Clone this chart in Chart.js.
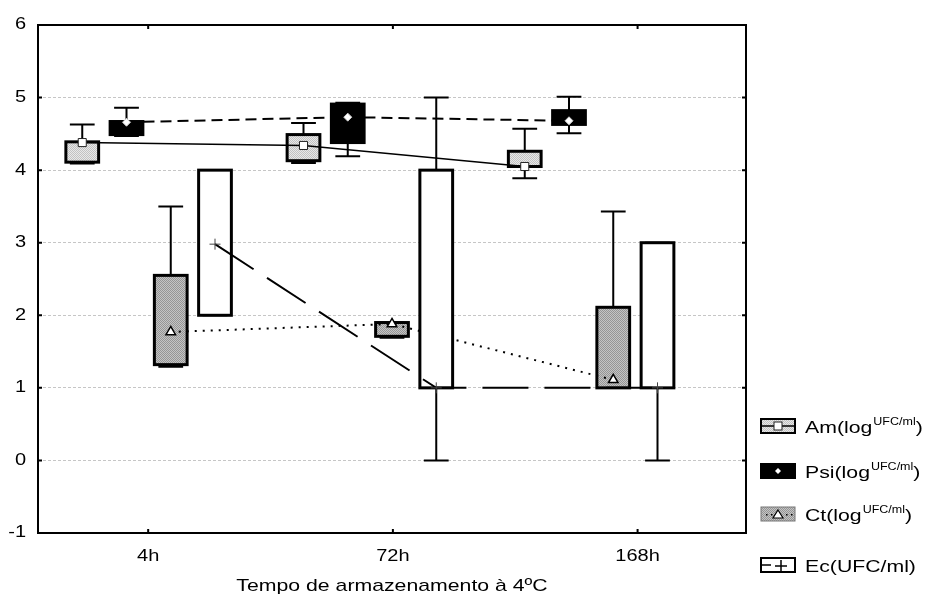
<!DOCTYPE html>
<html>
<head>
<meta charset="utf-8">
<script src="https://cdn.jsdelivr.net/npm/chart.js@4/dist/chart.umd.min.js"></script>
<style>
    html, body { margin: 0; padding: 0; background: #fff; }
    #chart { display: block; }
</style>
</head>
<body>
<canvas id="chart" width="928" height="594"></canvas>
<script>
const categories = ['4h', '72h', '168h'];
const yTicks = [-1, 0, 1, 2, 3, 4, 5, 6];
const axisTitle = 'Tempo de armazenamento à 4ºC';

// Am (log UFC/ml)
const amMin = [4.09, 4.10, 3.89];
const amQ1  = [4.11, 4.13, 4.05];
const amMed = [4.38, 4.34, 4.05];
const amQ3  = [4.39, 4.49, 4.26];
const amMax = [4.63, 4.65, 4.57];

// Psi (log UFC/ml)
const psiMin = [4.47, 4.19, 4.51];
const psiQ1  = [4.49, 4.38, 4.63];
const psiMed = [4.66, 4.73, 4.68];
const psiQ3  = [4.67, 4.91, 4.82];
const psiMax = [4.86, 4.93, 5.01];

// Ct (log UFC/ml)
const ctMin = [1.29, 1.69, 1.00];
const ctQ1  = [1.32, 1.71, 1.00];
const ctMed = [1.77, 1.88, 1.11];
const ctQ3  = [2.55, 1.90, 2.11];
const ctMax = [3.50, 1.90, 3.43];

// Ec (UFC/ml)
const ecMin = [2.0, 0.0, 0.0];
const ecQ1  = [2.0, 1.0, 1.0];
const ecMed = [2.98, 1.0, 1.0];
const ecQ3  = [4.0, 4.0, 3.0];
const ecMax = [4.0, 5.0, 3.0];

const canvas = document.getElementById('chart');
const ctx = canvas.getContext('2d');

function stipple(a, b) {
    const c = document.createElement('canvas');
    c.width = 2; c.height = 2;
    const g = c.getContext('2d');
    g.fillStyle = a; g.fillRect(0, 0, 2, 2);
    g.fillStyle = b; g.fillRect(0, 0, 1, 1); g.fillRect(1, 1, 1, 1);
    return ctx.createPattern(c, 'repeat');
}

const series = [
    { name: 'Am(log', sup: 'UFC/ml', end: ')', min: amMin, q1: amQ1, med: amMed, q3: amQ3, max: amMax,
      fill: stipple('#e8e8e8', '#c2c2c2'), dash: [], lineWidth: 1.5,
      point: { style: 'rect', radius: 5.7, bg: '#fff', border: '#222', width: 1 } },
    { name: 'Psi(log', sup: 'UFC/ml', end: ')', min: psiMin, q1: psiQ1, med: psiMed, q3: psiQ3, max: psiMax,
      fill: '#000', dash: [11, 6], lineWidth: 2,
      point: { style: 'rectRot', radius: 4, bg: '#fff', border: '#ccc', width: 1 } },
    { name: 'Ct(log', sup: 'UFC/ml', end: ')', min: ctMin, q1: ctQ1, med: ctMed, q3: ctQ3, max: ctMax,
      fill: stipple('#c4c4c4', '#959595'), dash: [2, 6], lineWidth: 2,
      point: { style: 'triangle', radius: 5.5, bg: '#fff', border: '#000', width: 1.5 } },
    { name: 'Ec(UFC/ml)', sup: '', end: '', min: ecMin, q1: ecQ1, med: ecMed, q3: ecQ3, max: ecMax,
      fill: '#fff', dash: [46, 16], lineWidth: 2,
      point: { style: 'cross', radius: 5.5, bg: '#fff', border: '#444', width: 1 } }
];

// each time point holds four boxes side by side, with an empty slot between groups
const slot = (g, si) => g * 5 + si;
const tickSlot = g => 1.49 + g * 5.53;
const TEXT_SX = 1.25;
const FONT = '"Liberation Sans", Arial, sans-serif';

function wideText(c, text, x, y, size, align) {
    c.save();
    c.font = size + 'px ' + FONT;
    const w = c.measureText(text).width * TEXT_SX;
    const x0 = align === 'center' ? x - w / 2 : align === 'right' ? x - w : x;
    c.translate(x0, y);
    c.scale(TEXT_SX, 1);
    c.textAlign = 'left';
    c.fillStyle = '#000';
    c.fillText(text, 0, 0);
    c.restore();
    return w;
}

function drawBoxes(chart, s, si) {
    const xs = chart.scales.x, ys = chart.scales.y, c = chart.ctx;
    const unit = xs.getPixelForValue(1) - xs.getPixelForValue(0);
    const hw = unit * 0.37, cap = unit * 0.28;
    c.save();
    categories.forEach((cat, g) => {
        const cx = xs.getPixelForValue(slot(g, si));
        const yMin = ys.getPixelForValue(s.min[g]), yMax = ys.getPixelForValue(s.max[g]);
        const yQ1 = ys.getPixelForValue(s.q1[g]), yQ3 = ys.getPixelForValue(s.q3[g]);
        c.strokeStyle = '#000';
        c.lineWidth = 2;
        c.beginPath();
        c.moveTo(cx, yMax); c.lineTo(cx, yMin);
        c.moveTo(cx - cap, yMax); c.lineTo(cx + cap, yMax);
        c.moveTo(cx - cap, yMin); c.lineTo(cx + cap, yMin);
        c.stroke();
        c.fillStyle = s.fill;
        c.fillRect(cx - hw, yQ3, hw * 2, yQ1 - yQ3);
        c.lineWidth = 3;
        c.strokeRect(cx - hw, yQ3, hw * 2, yQ1 - yQ3);
    });
    c.restore();
}

const boxPlugin = {
    id: 'boxes',
    beforeDatasetDraw(chart, args) {
        drawBoxes(chart, series[args.index], args.index);
    }
};

const framePlugin = {
    id: 'frame',
    afterDraw(chart) {
        const c = chart.ctx, a = chart.chartArea, xs = chart.scales.x, ys = chart.scales.y;
        c.save();
        c.strokeStyle = '#000';
        c.lineWidth = 2;
        c.strokeRect(a.left, a.top, a.right - a.left, a.bottom - a.top);
        c.beginPath();
        yTicks.forEach(v => {
            const py = ys.getPixelForValue(v);
            c.moveTo(a.left, py); c.lineTo(a.left + 4, py);
            c.moveTo(a.right, py); c.lineTo(a.right - 4, py);
        });
        categories.forEach((cat, g) => {
            const px = xs.getPixelForValue(tickSlot(g));
            c.moveTo(px, a.top); c.lineTo(px, a.top + 4);
            c.moveTo(px, a.bottom); c.lineTo(px, a.bottom - 4);
        });
        c.stroke();

        // axis labels
        c.textBaseline = 'middle';
        yTicks.forEach(v => wideText(c, String(v), a.left - 12, ys.getPixelForValue(v), 16, 'right'));
        categories.forEach((cat, g) => wideText(c, cat, xs.getPixelForValue(tickSlot(g)), 557, 16, 'center'));
        wideText(c, axisTitle, (a.left + a.right) / 2, 586, 17, 'center');

        // legend
        const rows = [426, 471, 514, 565];
        series.forEach((s, i) => {
            const cy = rows[i], lx = 761, lw = 34, lh = 14;
            c.fillStyle = s.fill;
            c.fillRect(lx, cy - lh / 2, lw, lh);
            c.lineWidth = i === 2 ? 1 : 2;
            c.strokeStyle = i === 2 ? '#777' : '#000';
            c.strokeRect(lx, cy - lh / 2, lw, lh);
            c.strokeStyle = '#000';
            if (i === 0) {
                c.lineWidth = 1.5;
                c.beginPath(); c.moveTo(lx, cy); c.lineTo(lx + lw, cy); c.stroke();
                c.fillStyle = '#fff'; c.fillRect(lx + lw / 2 - 4, cy - 4, 8, 8);
                c.lineWidth = 1; c.strokeStyle = '#222'; c.strokeRect(lx + lw / 2 - 4, cy - 4, 8, 8);
            } else if (i === 1) {
                c.fillStyle = '#fff';
                c.beginPath();
                c.moveTo(lx + lw / 2, cy - 3); c.lineTo(lx + lw / 2 + 3, cy);
                c.lineTo(lx + lw / 2, cy + 3); c.lineTo(lx + lw / 2 - 3, cy);
                c.closePath(); c.fill();
            } else if (i === 2) {
                c.fillStyle = '#000';
                [lx + 5, lx + 10, lx + 25, lx + 30].forEach(d => c.fillRect(d, cy, 1.5, 1.5));
                c.fillStyle = '#fff'; c.lineWidth = 1.2;
                c.beginPath();
                c.moveTo(lx + lw / 2, cy - 4); c.lineTo(lx + lw / 2 + 5, cy + 4); c.lineTo(lx + lw / 2 - 5, cy + 4);
                c.closePath(); c.fill(); c.stroke();
            } else {
                c.lineWidth = 1.5;
                c.beginPath();
                c.moveTo(lx, cy); c.lineTo(lx + 10, cy);
                c.moveTo(lx + 14, cy + 1); c.lineTo(lx + 26, cy + 1);
                c.moveTo(lx + 20, cy - 5); c.lineTo(lx + 20, cy + 6);
                c.stroke();
            }
            c.textBaseline = 'alphabetic';
            let tx = 805;
            tx += wideText(c, s.name, tx, cy + 7, 17, 'left');
            if (s.sup) {
                tx += wideText(c, s.sup, tx + 1, cy - 1, 10, 'left') + 1;
                wideText(c, s.end, tx, cy + 7, 17, 'left');
            }
        });
        c.restore();
    }
};

new Chart(ctx, {
    type: 'line',
    data: {
        datasets: series.map((s, si) => ({
            label: s.name,
            data: categories.map((cat, g) => ({ x: slot(g, si), y: s.med[g] })),
            order: series.length - si,
            borderColor: '#000',
            borderWidth: s.lineWidth,
            borderDash: s.dash,
            fill: false,
            tension: 0,
            pointStyle: s.point.style,
            pointRadius: s.point.radius,
            pointBackgroundColor: s.point.bg,
            pointBorderColor: s.point.border,
            pointBorderWidth: s.point.width,
            clip: false
        }))
    },
    options: {
        responsive: false,
        animation: false,
        devicePixelRatio: 1,
        layout: { padding: { left: 0, top: 25, right: 182, bottom: 0 } },
        plugins: { legend: { display: false }, tooltip: { enabled: false } },
        scales: {
            x: {
                type: 'linear', min: -1, max: 15,
                ticks: { display: false },
                grid: { display: false },
                border: { display: false },
                afterFit(s) { s.height = 61; }
            },
            y: {
                type: 'linear', min: -1, max: 6,
                ticks: { display: false, stepSize: 1 },
                grid: {
                    drawTicks: false,
                    lineWidth: 1,
                    color: c => (c.tick.value > -1 && c.tick.value < 6) ? '#c6c6c6' : 'rgba(0,0,0,0)'
                },
                border: { display: false, dash: [3, 2] },
                afterFit(s) { s.width = 38; }
            }
        }
    },
    plugins: [boxPlugin, framePlugin]
});
</script>
</body>
</html>
